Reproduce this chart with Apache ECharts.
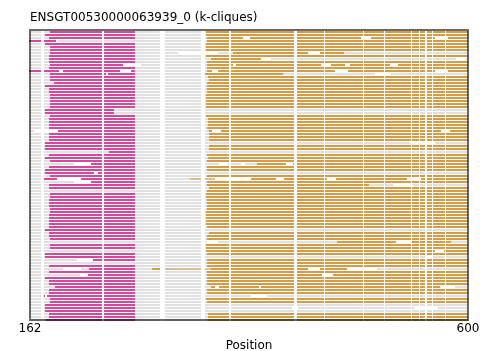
<!DOCTYPE html>
<html>
<head>
<meta charset="utf-8">
<title>ENSGT00530000063939_0 (k-cliques)</title>
<script src="https://cdn.jsdelivr.net/npm/echarts@6.0.0/dist/echarts.min.js"></script>
<style>
  html, body { margin: 0; padding: 0; background: #fff; }
  #main { width: 498px; height: 351px; }
</style>
</head>
<body>
<div id="main"></div>
<script>
// one row per aligned sequence, row 0 at the top
const rowCount = 97;
const seqSpan = [162, 600];

// clique 1 (magenta) runs: [row, start, end]
const pinkRuns = [
  [0, 182, 267], [1, 177, 267], [2, 181, 267], [3, 161, 188], [4, 177, 267],
  [5, 182, 267], [6, 182, 267], [7, 182, 267], [8, 181, 267], [9, 181, 267],
  [10, 181, 267], [11, 182, 255], [12, 181, 267], [13, 161, 191], [13, 195, 252],
  [13, 263, 267], [14, 182, 267], [15, 182, 267], [16, 182, 267], [17, 186, 267],
  [18, 177, 267], [19, 181, 267], [20, 181, 267], [21, 182, 267], [22, 182, 267],
  [23, 182, 267], [24, 182, 267], [25, 182, 267], [26, 177, 246], [27, 177, 246],
  [28, 182, 267], [29, 181, 267], [30, 181, 267], [31, 181, 267], [32, 181, 267],
  [33, 190, 267], [34, 181, 267], [35, 181, 267], [36, 181, 267], [37, 177, 267],
  [38, 177, 267], [39, 177, 267], [40, 241, 267], [41, 181, 267], [42, 177, 267],
  [43, 182, 267], [44, 223, 267], [45, 181, 267], [46, 177, 267], [47, 177, 267],
  [48, 182, 267], [49, 176, 189], [49, 213, 267], [50, 223, 267], [51, 181, 267],
  [52, 181, 267], [54, 182, 267], [55, 182, 267], [56, 181, 267], [57, 181, 267],
  [58, 181, 267], [59, 182, 267], [60, 182, 267], [61, 181, 267], [62, 181, 267],
  [63, 181, 267], [64, 181, 267], [65, 181, 267], [66, 177, 267], [67, 181, 267],
  [68, 181, 267], [69, 182, 267], [71, 182, 267], [72, 182, 267], [74, 177, 267],
  [75, 177, 267], [76, 225, 267], [78, 181, 267], [79, 221, 267], [80, 181, 267],
  [81, 220, 267], [82, 177, 267], [83, 181, 267], [84, 181, 267], [85, 187, 267],
  [86, 181, 267], [87, 181, 267], [88, 174, 267], [89, 182, 267], [90, 182, 267],
  [91, 177, 267], [92, 177, 267], [93, 177, 267], [94, 181, 267], [95, 181, 267],
  [96, 178, 267]
];

// clique 2 (orange) runs: [row, start, end]
const orangeRuns = [
  [0, 338, 600], [1, 338, 600], [2, 339, 600], [3, 339, 600], [4, 338, 600],
  [5, 338, 600], [6, 338, 600], [7, 365, 476], [8, 338, 600], [9, 343, 393],
  [10, 339, 600], [11, 339, 600], [12, 339, 600], [13, 339, 600], [14, 336, 415],
  [15, 340, 600], [16, 341, 600], [17, 339, 600], [18, 339, 600], [19, 339, 600],
  [20, 339, 600], [21, 338, 600], [22, 338, 600], [23, 338, 600], [24, 338, 600],
  [25, 338, 600], [28, 338, 600], [29, 340, 600], [30, 340, 600], [31, 340, 600],
  [32, 339, 600], [33, 341, 600], [34, 341, 600], [35, 341, 600], [36, 341, 600],
  [38, 341, 600], [39, 341, 600], [41, 339, 600], [42, 340, 600], [43, 339, 600],
  [44, 389, 600], [45, 339, 600], [46, 339, 600], [48, 339, 600], [49, 383, 600],
  [50, 339, 600], [51, 339, 501], [52, 341, 600], [53, 339, 600], [54, 338, 600],
  [55, 338, 600], [56, 339, 600], [57, 339, 600], [58, 339, 600], [59, 339, 600],
  [60, 338, 600], [61, 338, 600], [62, 338, 600], [63, 338, 600], [64, 338, 600],
  [65, 339, 600], [67, 341, 600], [68, 339, 600], [69, 339, 600], [70, 469, 583],
  [71, 338, 600], [72, 338, 600], [73, 338, 600], [74, 339, 600], [76, 339, 600],
  [77, 339, 600], [78, 339, 600], [79, 284, 292], [79, 343, 479], [80, 339, 600],
  [81, 339, 600], [82, 339, 600], [83, 339, 600], [84, 339, 600], [85, 343, 572],
  [86, 339, 600], [87, 339, 600], [89, 338, 600], [90, 339, 600], [94, 340, 600],
  [95, 340, 600], [96, 340, 600]
];

// thin orange traces
const thinRuns = [[49, 322, 347], [79, 292, 343]];

// alignment gap columns shared by the rows
const gapColumns = [
  [173, 176], [234, 236], [292, 297], [333, 337], [361, 363], [426, 429], [456, 457],
  [495, 496], [516, 517], [543, 544], [551, 552], [557, 559], [564, 565], [577, 578]
];

// gaps only found in single rows: [row, start, end]
const rowGaps = [
  [2, 375, 382], [2, 493, 503], [2, 567, 580], [3, 188, 190],
  [7, 310, 350], [7, 440, 452], [9, 393, 403], [9, 588, 598],
  [11, 255, 273], [11, 365, 368], [11, 453, 463], [11, 477, 482], [11, 522, 530],
  [13, 191, 195], [13, 252, 263], [13, 344, 350], [13, 467, 480], [13, 567, 580],
  [14, 238, 240], [14, 507, 523],
  [33, 166, 190], [33, 344, 353], [33, 573, 582], [37, 542, 567],
  [44, 206, 223], [44, 351, 360], [44, 373, 377], [44, 418, 425], [47, 226, 230],
  [49, 189, 213], [49, 347, 383], [49, 408, 416], [49, 459, 468], [49, 539, 553],
  [50, 206, 223], [51, 525, 545], [70, 339, 350], [70, 528, 543], [73, 567, 576],
  [75, 557, 565], [76, 209, 225], [79, 195, 213], [79, 440, 452], [79, 479, 509],
  [81, 212, 220], [81, 454, 465], [85, 347, 351], [85, 391, 393], [85, 572, 587],
  [88, 177, 179], [88, 383, 399], [92, 424, 430], [92, 547, 570]
];

const xTicks = [162, 600];

const PINK = '#d6489b';
const ORANGE = '#d69b46';
const GRAY = '#e0e0e0';

const chart = echarts.init(document.getElementById('main'));

const seqData = [];
const gapData = [];
for (let r = 0; r < rowCount; r++) {
  seqData.push([seqSpan[0], seqSpan[1], r]);
  gapColumns.forEach(g => gapData.push([g[0], g[1], r]));
}
rowGaps.forEach(g => gapData.push([g[1], g[2], g[0]]));

const toItem = run => [run[1], run[2], run[0]];

// horizontal run of height h pixels, centred on its row
function runRenderer(color, h) {
  return function (params, api) {
    const a = api.coord([api.value(0), api.value(2)]);
    const b = api.coord([api.value(1), api.value(2)]);
    return {
      type: 'rect',
      shape: { x: a[0], y: a[1] - h / 2, width: b[0] - a[0], height: h },
      style: { fill: color }
    };
  };
}

function runSeries(name, data, color, h, z) {
  return {
    name: name,
    type: 'custom',
    renderItem: runRenderer(color, h),
    encode: { x: [0, 1], y: 2 },
    data: data,
    z: z,
    silent: true
  };
}

chart.setOption({
  animation: false,
  title: {
    text: 'ENSGT00530000063939_0 (k-cliques)',
    left: 30,
    top: 12,
    padding: 0,
    textStyle: { fontFamily: 'DejaVu Sans', fontSize: 12, fontWeight: 'normal', color: '#000' }
  },
  grid: { left: 30, right: 30, top: 30, bottom: 31, outerBoundsMode: 'none' },
  xAxis: {
    type: 'value',
    min: xTicks[0],
    max: xTicks[1],
    interval: xTicks[1] - xTicks[0],
    name: 'Position',
    nameLocation: 'middle',
    nameGap: 13,
    nameTextStyle: { fontFamily: 'DejaVu Sans', fontSize: 12, color: '#000' },
    axisLine: { show: false },
    axisTick: { show: false },
    splitLine: { show: false },
    axisLabel: {
      margin: 3,
      fontFamily: 'DejaVu Sans',
      fontSize: 12,
      color: '#000',
      showMinLabel: true,
      showMaxLabel: true
    }
  },
  yAxis: {
    type: 'value',
    min: -2 / 3,
    max: rowCount - 1,
    inverse: true,
    show: false
  },
  series: [
    runSeries('sequence', seqData, GRAY, 2, 2),
    runSeries('clique 1', pinkRuns.map(toItem), PINK, 2, 3),
    runSeries('clique 2', orangeRuns.map(toItem), ORANGE, 2, 3),
    runSeries('trace', thinRuns.map(toItem), ORANGE, 1, 3),
    runSeries('gaps', gapData, '#fff', 2, 4),
    {
      // plot frame, drawn over the runs
      type: 'custom',
      data: [[seqSpan[0], 0]],
      encode: { x: 0, y: 1 },
      z: 5,
      silent: true,
      renderItem: function (params) {
        const cs = params.coordSys;
        return {
          type: 'rect',
          shape: { x: cs.x, y: cs.y, width: cs.width, height: cs.height },
          style: { fill: 'none', stroke: 'rgba(0,0,0,0.58)', lineWidth: 2 }
        };
      }
    }
  ]
});
</script>
</body>
</html>
